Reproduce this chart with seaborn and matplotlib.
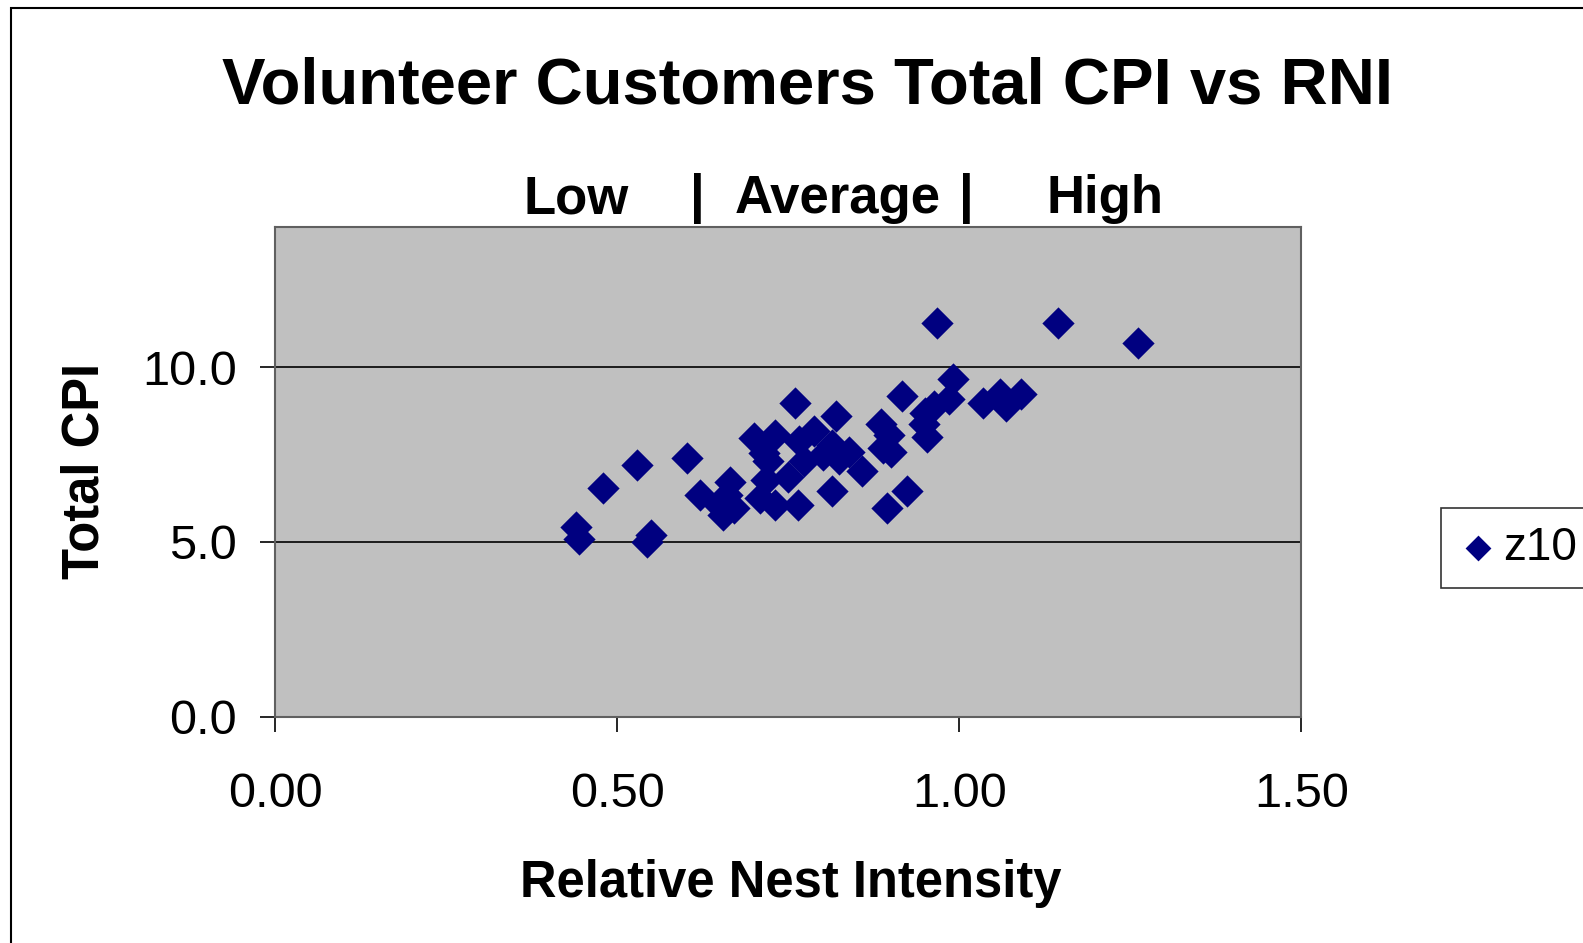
import numpy as np
import pandas as pd
import matplotlib.pyplot as plt
import matplotlib.patches as mpatches
import seaborn as sns

# Relative Nest Intensity (x) and Total CPI (y), series z10
rni = [0.44, 0.444, 0.479, 0.528, 0.543, 0.549, 0.602, 0.621, 0.649, 0.655,
       0.664, 0.661, 0.670, 0.700, 0.709, 0.715, 0.720, 0.717, 0.730, 0.731,
       0.749, 0.760, 0.764, 0.765, 0.773, 0.788, 0.800, 0.814, 0.819, 0.814,
       0.824, 0.838, 0.857, 0.886, 0.889, 0.894, 0.897, 0.900, 0.916, 0.923,
       0.948, 0.950, 0.953, 0.963, 0.968, 0.985, 0.991, 1.034, 1.059, 1.069,
       1.090, 1.145, 1.262]
cpi = [5.42, 5.07, 6.54, 7.20, 4.99, 5.19, 7.41, 6.34, 6.05, 5.76,
       6.71, 6.34, 5.97, 7.98, 6.25, 7.55, 7.30, 6.77, 8.07, 6.05,
       6.86, 8.96, 6.05, 7.90, 7.30, 8.16, 7.49, 7.78, 8.59, 6.46,
       7.38, 7.58, 7.03, 8.36, 7.69, 5.97, 8.07, 7.58, 9.16, 6.46,
       8.36, 8.70, 8.01, 8.88, 11.27, 9.08, 9.65, 8.96, 9.22, 8.88,
       9.22, 11.27, 10.69]
series = "z10"

df = pd.DataFrame({"rni": rni, "cpi": cpi})

sns.set_style("white")
plt.rcParams['font.family'] = ['Liberation Sans', 'DejaVu Sans']
plt.rcParams.update({'text.color': 'black', 'axes.labelcolor': 'black',
                     'xtick.color': 'black', 'ytick.color': 'black'})

fig = plt.figure(figsize=(15.83, 9.43), dpi=100)
ax = fig.add_axes([0.174, 0.240, 0.648, 0.519])
ax.set_facecolor('#C0C0C0')

sns.scatterplot(data=df, x="rni", y="cpi", marker="D", s=270, color="#000080",
                linewidth=0, label=series, ax=ax, zorder=3)

ax.set_xlim(0, 1.5)
ax.set_ylim(0, 14)
ax.set_xticks([0, 0.5, 1.0, 1.5])
ax.set_xticklabels(["0.00", "0.50", "1.00", "1.50"])
ax.set_yticks([0, 5, 10])
ax.set_yticklabels(["0.0", "5.0", "10.0"])
ax.tick_params(axis='both', labelsize=35, direction='out', length=11, width=1.2,
               left=True, bottom=True)
ax.tick_params(axis='x', pad=29)
ax.tick_params(axis='y', pad=17)
for y in [5, 10]:
    ax.axhline(y, color='black', linewidth=1.2, zorder=1)
for s in ax.spines.values():
    s.set_color('#606060')
    s.set_linewidth(1.5)

ax.set_xlabel("Relative Nest Intensity", fontsize=36.5, fontweight='bold')
ax.set_ylabel("Total CPI", fontsize=36.5, fontweight='bold')
ax.xaxis.set_label_coords(0.502, -0.29)
ax.yaxis.set_label_coords(-0.162, 0.502)

fig.text(808 / 1583, 1 - 86 / 943, "Volunteer Customers Total CPI vs RNI",
         fontsize=47, fontweight='bold', ha='center', va='center')
for label, xp in [("Low", 576), ("|", 697), ("Average", 838), ("|", 966), ("High", 1105)]:
    fig.text(xp / 1583, 1 - 199 / 943, label, fontsize=38, fontweight='bold',
             ha='center', va='center')

leg = ax.legend(loc='center left', bbox_to_anchor=(1441 / 1583, 1 - 548 / 943),
                bbox_transform=fig.transFigure, fontsize=33, frameon=True,
                fancybox=False, edgecolor='black', handletextpad=0.15,
                borderpad=0.4, handlelength=0.8, markerscale=0.8,
                borderaxespad=0)
leg.get_frame().set_linewidth(1.2)

fig.patches.append(mpatches.Rectangle((11 / 1583, -0.1), 1.2, 1.1 - 8 / 943,
                                      transform=fig.transFigure, fill=False,
                                      edgecolor='black', linewidth=1.5))

fig.savefig("out.png", dpi=100)
